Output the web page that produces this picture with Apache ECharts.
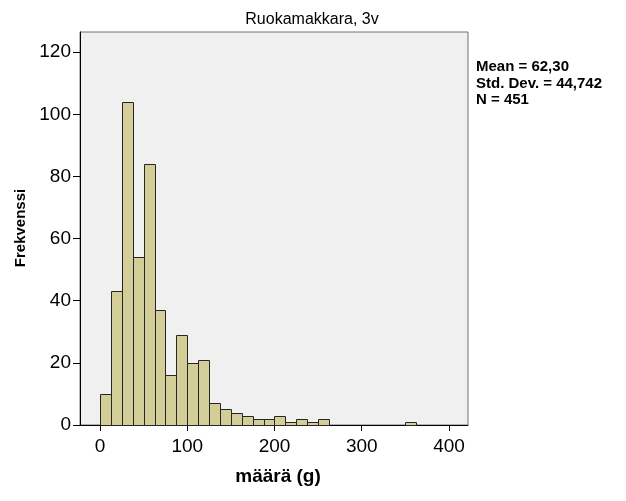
<!DOCTYPE html>
<html><head><meta charset="utf-8">
<script src="https://cdn.jsdelivr.net/npm/echarts@6/dist/echarts.min.js"></script>
<style>html,body{margin:0;padding:0;background:#fff}#c{width:626px;height:501px}</style>
</head><body><div id="c"></div>
<script>
const title = 'Ruokamakkara, 3v';
const xTitle = 'määrä (g)';
const yTitle = 'Frekvenssi';
const statsLines = ['Mean = 62,30', 'Std. Dev. = 44,742', 'N = 451'];
const binWidth = 12.5;
const binStarts = [0, 12.5, 25, 37.5, 50, 62.5, 75, 87.5, 100, 112.5, 125, 137.5, 150, 162.5, 175, 187.5,
  200, 212.5, 225, 237.5, 250, 262.5, 275, 287.5, 300, 312.5, 325, 337.5, 350];
const counts = [10, 43, 104, 54, 84, 37, 16, 29, 20, 21, 7, 5, 4, 3, 2, 2,
  3, 1, 2, 1, 2, 0, 0, 0, 0, 0, 0, 0, 1];
const xTicks = [0, 100, 200, 300, 400];
const yTicks = [0, 20, 40, 60, 80, 100, 120];

const data = binStarts.map((s, i) => [s, s + binWidth, counts[i]]);
const chart = echarts.init(document.getElementById('c'), null, {renderer: 'canvas'});
const font = 'Arial, "Liberation Sans", sans-serif';
chart.setOption({
  animation: false,
  backgroundColor: '#ffffff',
  grid: {left: 80, top: 32, right: 158, bottom: 76, show: true, backgroundColor: '#f0f0f0', borderColor: '#707070', borderWidth: 1},
  xAxis: {
    type: 'value', min: -22.9, max: 421.8,
    axisLine: {show: true, onZero: false, lineStyle: {color: '#000', width: 1}},
    axisTick: {show: true, customValues: xTicks, length: 6, lineStyle: {color: '#000'}},
    axisLabel: {customValues: xTicks, fontSize: 19, color: '#000', fontFamily: font, margin: 12},
    splitLine: {show: false}
  },
  yAxis: {
    type: 'value', min: 0, max: 126.5,
    axisLine: {show: true, onZero: false, lineStyle: {color: '#000', width: 1}},
    axisTick: {show: true, customValues: yTicks, length: 7, lineStyle: {color: '#000'}},
    axisLabel: {customValues: yTicks, fontSize: 19, color: '#000', fontFamily: font, margin: 9},
    splitLine: {show: false}
  },
  series: [{
    type: 'custom',
    data: data,
    encode: {x: [0, 1], y: 2},
    renderItem: function (params, api) {
      const x0 = api.value(0), x1 = api.value(1), y = api.value(2);
      if (!y) return null;
      const p0 = api.coord([x0, y]);
      const p1 = api.coord([x1, 0]);
      return {
        type: 'rect',
        shape: {x: Math.round(p0[0]) + 0.5, y: Math.round(p0[1]) + 0.5, width: Math.round(p1[0]) - Math.round(p0[0]), height: Math.round(p1[1]) - Math.round(p0[1])},
        style: {fill: '#d3ce97', stroke: '#262626', lineWidth: 1}
      };
    }
  }],
  graphic: [
    {type: 'text', style: {text: title, x: 312, y: 20, textAlign: 'center', textVerticalAlign: 'middle', font: '16px ' + font, fill: '#000'}},
    {type: 'text', style: {text: xTitle, x: 278, y: 477, textAlign: 'center', textVerticalAlign: 'middle', font: 'bold 19px ' + font, fill: '#000'}},
    {type: 'text', x: 21, y: 228, rotation: Math.PI / 2, style: {text: yTitle, x: 0, y: 0, textAlign: 'center', textVerticalAlign: 'middle', font: 'bold 15px ' + font, fill: '#000'}},
    {type: 'text', style: {text: statsLines.join('\n'), x: 476, y: 59, textAlign: 'left', textVerticalAlign: 'top', font: 'bold 15px ' + font, lineHeight: 16.5, fill: '#000'}}
  ]
});
</script></body></html>
